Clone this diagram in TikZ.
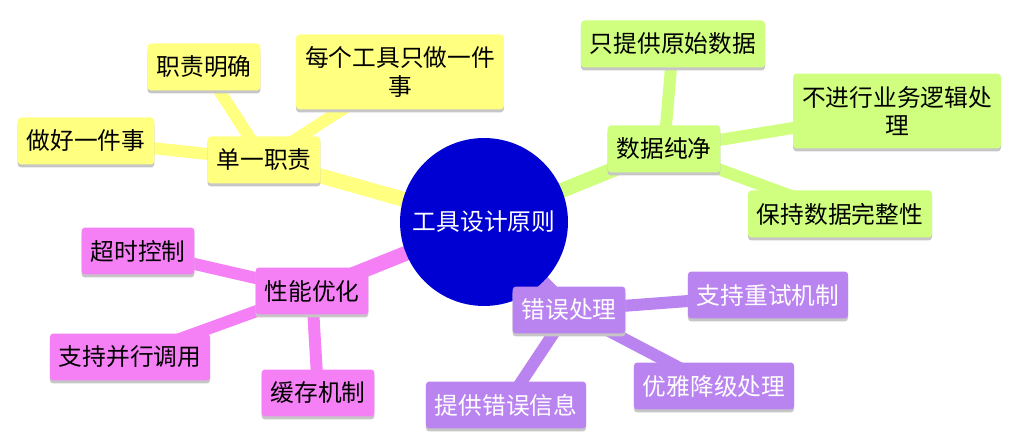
\documentclass[tikz,border=0pt]{standalone}
\usepackage{fontspec}
\setmainfont{Noto Sans CJK SC}
\usepackage{tikz}
\usetikzlibrary{positioning, shadows, backgrounds}

\definecolor{ylw}{RGB}{255,255,128}
\definecolor{grn}{RGB}{208,255,128}
\definecolor{pnk}{RGB}{245,128,245}
\definecolor{vlt}{RGB}{186,132,240}
\definecolor{navy}{RGB}{0,0,210}

\begin{document}
\begin{tikzpicture}[x=0.02cm, y=-0.02cm,
  topic/.style={rectangle, rounded corners=2pt,
                inner xsep=0.18cm, inner ysep=0.08cm,
                minimum height=0.94cm, align=center,
                font=\fontsize{13.5}{16}\selectfont,
                drop shadow={shadow xshift=0pt, shadow yshift=-0.06cm,
                             fill=gray!45, opacity=1}},
  ytopic/.style={topic, fill=ylw},
  gtopic/.style={topic, fill=grn},
  ptopic/.style={topic, fill=pnk},
  vtopic/.style={topic, fill=vlt, text=white},
  root/.style={circle, fill=navy, text=white, minimum size=3.36cm,
               font=\fontsize{13.5}{16}\selectfont},
  main/.style={line width=0.3cm},
  sub/.style={line width=0.24cm}
]
\useasboundingbox (0,0) rectangle (1026,448);

\node[root] (root) at (484,222) {工具设计原则};

\node[ytopic] (single) at (264,160) {单一职责};
\node[ytopic] (clear) at (204,67) {职责明确};
\node[ytopic, minimum height=1.5cm] (onetool) at (400,72) {每个工具只做一件\\事};
\node[ytopic] (onething) at (86,141) {做好一件事};

\node[gtopic] (pure) at (664,149) {数据纯净};
\node[gtopic] (raw) at (673,44) {只提供原始数据};
\node[gtopic, minimum height=1.5cm] (nologic) at (897,111) {不进行业务逻辑处\\理};
\node[gtopic] (whole) at (840,214) {保持数据完整性};

\node[ptopic] (perf) at (312,291) {性能优化};
\node[ptopic] (timeout) at (138,251) {超时控制};
\node[ptopic] (para) at (130,357) {支持并行调用};
\node[ptopic] (cache) at (318,393) {缓存机制};

\node[vtopic] (err) at (569,310) {错误处理};
\node[vtopic] (retry) at (768,295) {支持重试机制};
\node[vtopic] (msg) at (506,405) {提供错误信息};
\node[vtopic] (fallback) at (714,386) {优雅降级处理};

\begin{scope}[on background layer]
\draw[main, ylw] (root.center) -- (single.center);
\draw[sub, ylw] (single.center) -- (clear.center);
\draw[sub, ylw] (single.center) -- (onetool.center);
\draw[sub, ylw] (single.center) -- (onething.center);

\draw[main, grn] (root.center) -- (pure.center);
\draw[sub, grn] (pure.center) -- (raw.center);
\draw[sub, grn] (pure.center) -- (nologic.center);
\draw[sub, grn] (pure.center) -- (whole.center);

\draw[main, pnk] (root.center) -- (perf.center);
\draw[sub, pnk] (perf.center) -- (timeout.center);
\draw[sub, pnk] (perf.center) -- (para.center);
\draw[sub, pnk] (perf.center) -- (cache.center);

\draw[main, vlt] (root.center) -- (err.center);
\draw[sub, vlt] (err.center) -- (retry.center);
\draw[sub, vlt] (err.center) -- (msg.center);
\draw[sub, vlt] (err.center) -- (fallback.center);
\end{scope}
\end{tikzpicture}
\end{document}
